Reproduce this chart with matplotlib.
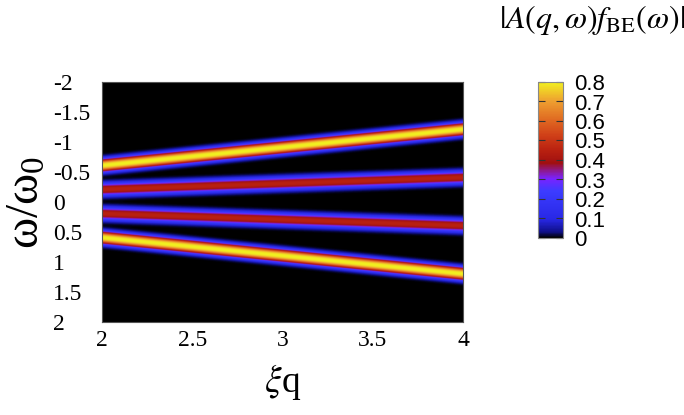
import numpy as np
import matplotlib
matplotlib.use('Agg')
import matplotlib.pyplot as plt
from matplotlib.colors import LinearSegmentedColormap

plt.rcParams['font.family'] = ['Liberation Serif', 'DejaVu Serif']
plt.rcParams['mathtext.fontset'] = 'stix'

# band parameters: omega = slope * q
band_slopes = [-0.3, -0.1, 0.1, 0.3]
band_peaks = [0.8, 0.45, 0.45, 0.8]
band_width = 0.08

q_range = [2, 4]
w_range = [-2, 2]
x_ticks = [2, 2.5, 3, 3.5, 4]
x_labels = ['2', '2.5', '3', '3.5', '4']
y_ticks = [-2, -1.5, -1, -0.5, 0, 0.5, 1, 1.5, 2]
y_labels = ['-2', '-1.5', '-1', '-0.5', '0', '0.5', '1', '1.5', '2']
cb_ticks = [0, 0.1, 0.2, 0.3, 0.4, 0.5, 0.6, 0.7, 0.8]
cb_labels = ['0', '0.1', '0.2', '0.3', '0.4', '0.5', '0.6', '0.7', '0.8']

# gnuplot style palette: black - blue - purple - red - orange - yellow
cmap = LinearSegmentedColormap.from_list('pal', [
    (0.0, '#000000'),
    (0.04, '#10108c'),
    (0.12, '#2828e6'),
    (0.30, '#3c3cff'),
    (0.38, '#7a22ff'),
    (0.44, '#90187a'),
    (0.48, '#a01010'),
    (0.56, '#b82010'),
    (0.66, '#d04018'),
    (0.76, '#e06a22'),
    (0.88, '#eea030'),
    (1.0, '#f2f020'),
])

q = np.linspace(q_range[0], q_range[1], 400)
w = np.linspace(w_range[0], w_range[1], 800)
Q, W = np.meshgrid(q, w)
Z = np.zeros_like(Q)
for s, p in zip(band_slopes, band_peaks):
    Z = Z + p * np.exp(-np.abs((W - s * Q) / band_width) ** 2.5 / 2)

fig = plt.figure(figsize=(6.84, 4.15), dpi=100)
ax = fig.add_axes([102 / 684, 93 / 415, 361 / 684, 240 / 415])
im = ax.imshow(Z, extent=[q_range[0], q_range[1], w_range[0], w_range[1]], origin='lower',
               aspect='auto', cmap=cmap, vmin=0, vmax=0.8, interpolation='bilinear')
ax.set_xlim(q_range)
ax.set_ylim(w_range[1], w_range[0])
ax.set_xticks(x_ticks)
ax.set_xticklabels(x_labels, fontsize=17)
ax.set_yticks(y_ticks)
ax.set_yticklabels(y_labels, fontsize=17, ha='left')
ax.tick_params(axis='y', length=0, pad=35)
ax.tick_params(axis='x', length=0, pad=6)
for sp in ax.spines.values():
    sp.set_color('#555555')
    sp.set_linewidth(0.8)

ax.set_xlabel(r'$\xi$q', fontsize=27, labelpad=8)
fig.text(27 / 684, 1 - 203 / 415, r'$\mathregular{ω/ω_0}$', fontsize=34,
         rotation=90, ha='center', va='center')

cax = fig.add_axes([538 / 684, 177 / 415, 25 / 684, 156 / 415])
cb = fig.colorbar(im, cax=cax)
cb.set_ticks(cb_ticks)
cb.ax.set_yticklabels(cb_labels, fontsize=16, family='Liberation Sans')
cb.ax.tick_params(direction='in', length=5, width=0.8, color='#333333', pad=8, left=True)
cb.outline.set_edgecolor('#888888')
fig.text(592 / 684, 1 - 20 / 415, r'$|A(q,\omega)f_{\rm BE}(\omega)|$', fontsize=23,
         ha='center', va='center')

fig.savefig('out.png', dpi=100)
